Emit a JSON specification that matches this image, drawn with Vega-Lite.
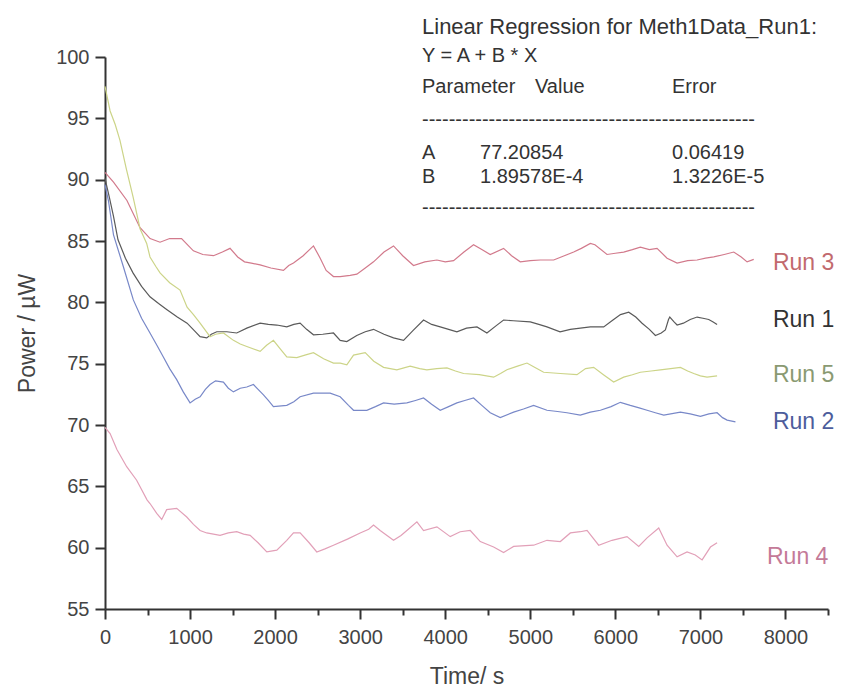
{
  "$schema": "https://vega.github.io/schema/vega-lite/v6.json",
  "autosize": "none",
  "width": 723,
  "height": 552,
  "padding": {"left": 105, "top": 57, "right": 30, "bottom": 81},
  "background": "white",
  "config": {
    "view": {"stroke": null},
    "font": "Liberation Sans",
    "axis": {"grid": false, "domainColor": "#333", "domainWidth": 2, "tickColor": "#333", "tickWidth": 2, "labelColor": "#444", "labelFont": "Liberation Sans", "labelFontSize": 20, "titleFont": "Liberation Sans", "titleFontSize": 23, "titleFontWeight": "normal", "titleColor": "#444"}
  },
  "datasets": {
    "series": [
      {"run":"Run 3","t":0,"p":90.6},{"run":"Run 3","t":100,"p":89.8},{"run":"Run 3","t":258,"p":88.3},{"run":"Run 3","t":410,"p":86.1},{"run":"Run 3","t":530,"p":85.2},{"run":"Run 3","t":647,"p":84.9},{"run":"Run 3","t":760,"p":85.2},{"run":"Run 3","t":900,"p":85.2},{"run":"Run 3","t":1039,"p":84.2},{"run":"Run 3","t":1150,"p":83.9},{"run":"Run 3","t":1275,"p":83.8},{"run":"Run 3","t":1380,"p":84.1},{"run":"Run 3","t":1470,"p":84.4},{"run":"Run 3","t":1560,"p":83.7},{"run":"Run 3","t":1640,"p":83.3},{"run":"Run 3","t":1720,"p":83.2},{"run":"Run 3","t":1824,"p":83.05},{"run":"Run 3","t":1950,"p":82.8},{"run":"Run 3","t":2098,"p":82.6},{"run":"Run 3","t":2160,"p":83.0},{"run":"Run 3","t":2216,"p":83.2},{"run":"Run 3","t":2330,"p":83.8},{"run":"Run 3","t":2451,"p":84.6},{"run":"Run 3","t":2530,"p":83.6},{"run":"Run 3","t":2600,"p":82.6},{"run":"Run 3","t":2686,"p":82.1},{"run":"Run 3","t":2765,"p":82.1},{"run":"Run 3","t":2882,"p":82.2},{"run":"Run 3","t":2961,"p":82.3},{"run":"Run 3","t":3060,"p":82.8},{"run":"Run 3","t":3157,"p":83.3},{"run":"Run 3","t":3280,"p":84.1},{"run":"Run 3","t":3392,"p":84.6},{"run":"Run 3","t":3500,"p":83.8},{"run":"Run 3","t":3627,"p":83.0},{"run":"Run 3","t":3760,"p":83.3},{"run":"Run 3","t":3902,"p":83.45},{"run":"Run 3","t":4000,"p":83.3},{"run":"Run 3","t":4098,"p":83.4},{"run":"Run 3","t":4220,"p":84.1},{"run":"Run 3","t":4333,"p":84.7},{"run":"Run 3","t":4430,"p":84.3},{"run":"Run 3","t":4529,"p":83.9},{"run":"Run 3","t":4686,"p":84.4},{"run":"Run 3","t":4780,"p":83.8},{"run":"Run 3","t":4882,"p":83.3},{"run":"Run 3","t":5000,"p":83.4},{"run":"Run 3","t":5118,"p":83.45},{"run":"Run 3","t":5275,"p":83.45},{"run":"Run 3","t":5400,"p":83.8},{"run":"Run 3","t":5510,"p":84.1},{"run":"Run 3","t":5600,"p":84.4},{"run":"Run 3","t":5706,"p":84.8},{"run":"Run 3","t":5760,"p":84.7},{"run":"Run 3","t":5902,"p":83.9},{"run":"Run 3","t":6000,"p":84.0},{"run":"Run 3","t":6098,"p":84.1},{"run":"Run 3","t":6200,"p":84.3},{"run":"Run 3","t":6294,"p":84.5},{"run":"Run 3","t":6400,"p":84.3},{"run":"Run 3","t":6490,"p":84.4},{"run":"Run 3","t":6608,"p":83.6},{"run":"Run 3","t":6726,"p":83.2},{"run":"Run 3","t":6850,"p":83.4},{"run":"Run 3","t":6961,"p":83.45},{"run":"Run 3","t":7060,"p":83.6},{"run":"Run 3","t":7157,"p":83.7},{"run":"Run 3","t":7280,"p":83.9},{"run":"Run 3","t":7392,"p":84.1},{"run":"Run 3","t":7480,"p":83.7},{"run":"Run 3","t":7549,"p":83.3},{"run":"Run 3","t":7627,"p":83.5},

      {"run":"Run 1","t":0,"p":90.1},{"run":"Run 1","t":50,"p":88.6},{"run":"Run 1","t":100,"p":87.0},{"run":"Run 1","t":153,"p":85.1},{"run":"Run 1","t":240,"p":83.6},{"run":"Run 1","t":329,"p":82.4},{"run":"Run 1","t":430,"p":81.3},{"run":"Run 1","t":529,"p":80.45},{"run":"Run 1","t":630,"p":79.9},{"run":"Run 1","t":729,"p":79.4},{"run":"Run 1","t":850,"p":78.8},{"run":"Run 1","t":965,"p":78.3},{"run":"Run 1","t":1050,"p":77.7},{"run":"Run 1","t":1118,"p":77.2},{"run":"Run 1","t":1196,"p":77.1},{"run":"Run 1","t":1250,"p":77.4},{"run":"Run 1","t":1314,"p":77.6},{"run":"Run 1","t":1431,"p":77.6},{"run":"Run 1","t":1549,"p":77.5},{"run":"Run 1","t":1667,"p":77.9},{"run":"Run 1","t":1824,"p":78.3},{"run":"Run 1","t":1920,"p":78.2},{"run":"Run 1","t":2020,"p":78.15},{"run":"Run 1","t":2137,"p":78.0},{"run":"Run 1","t":2220,"p":78.2},{"run":"Run 1","t":2294,"p":78.3},{"run":"Run 1","t":2370,"p":77.8},{"run":"Run 1","t":2451,"p":77.35},{"run":"Run 1","t":2560,"p":77.4},{"run":"Run 1","t":2686,"p":77.5},{"run":"Run 1","t":2765,"p":76.9},{"run":"Run 1","t":2843,"p":76.8},{"run":"Run 1","t":2960,"p":77.3},{"run":"Run 1","t":3060,"p":77.6},{"run":"Run 1","t":3157,"p":77.8},{"run":"Run 1","t":3280,"p":77.4},{"run":"Run 1","t":3392,"p":77.1},{"run":"Run 1","t":3510,"p":76.9},{"run":"Run 1","t":3620,"p":77.7},{"run":"Run 1","t":3745,"p":78.56},{"run":"Run 1","t":3840,"p":78.2},{"run":"Run 1","t":3941,"p":78.0},{"run":"Run 1","t":4040,"p":77.8},{"run":"Run 1","t":4137,"p":77.6},{"run":"Run 1","t":4250,"p":77.9},{"run":"Run 1","t":4373,"p":78.0},{"run":"Run 1","t":4490,"p":77.5},{"run":"Run 1","t":4600,"p":78.1},{"run":"Run 1","t":4686,"p":78.56},{"run":"Run 1","t":4800,"p":78.5},{"run":"Run 1","t":5000,"p":78.4},{"run":"Run 1","t":5100,"p":78.2},{"run":"Run 1","t":5196,"p":78.0},{"run":"Run 1","t":5350,"p":77.6},{"run":"Run 1","t":5470,"p":77.8},{"run":"Run 1","t":5588,"p":77.9},{"run":"Run 1","t":5706,"p":78.0},{"run":"Run 1","t":5863,"p":78.0},{"run":"Run 1","t":5960,"p":78.5},{"run":"Run 1","t":6060,"p":79.0},{"run":"Run 1","t":6157,"p":79.2},{"run":"Run 1","t":6240,"p":78.8},{"run":"Run 1","t":6314,"p":78.3},{"run":"Run 1","t":6400,"p":77.8},{"run":"Run 1","t":6471,"p":77.3},{"run":"Run 1","t":6540,"p":77.5},{"run":"Run 1","t":6588,"p":77.75},{"run":"Run 1","t":6625,"p":78.6},{"run":"Run 1","t":6640,"p":78.8},{"run":"Run 1","t":6690,"p":78.4},{"run":"Run 1","t":6726,"p":78.15},{"run":"Run 1","t":6800,"p":78.3},{"run":"Run 1","t":6880,"p":78.6},{"run":"Run 1","t":6961,"p":78.8},{"run":"Run 1","t":7030,"p":78.7},{"run":"Run 1","t":7098,"p":78.6},{"run":"Run 1","t":7150,"p":78.4},{"run":"Run 1","t":7196,"p":78.2},

      {"run":"Run 5","t":0,"p":97.6},{"run":"Run 5","t":60,"p":95.6},{"run":"Run 5","t":120,"p":94.5},{"run":"Run 5","t":176,"p":93.2},{"run":"Run 5","t":250,"p":90.9},{"run":"Run 5","t":330,"p":88.6},{"run":"Run 5","t":412,"p":86.0},{"run":"Run 5","t":490,"p":84.8},{"run":"Run 5","t":529,"p":83.7},{"run":"Run 5","t":600,"p":82.9},{"run":"Run 5","t":647,"p":82.4},{"run":"Run 5","t":760,"p":81.6},{"run":"Run 5","t":882,"p":81.0},{"run":"Run 5","t":965,"p":79.6},{"run":"Run 5","t":1040,"p":79.0},{"run":"Run 5","t":1118,"p":78.3},{"run":"Run 5","t":1235,"p":77.2},{"run":"Run 5","t":1300,"p":77.4},{"run":"Run 5","t":1392,"p":77.5},{"run":"Run 5","t":1510,"p":76.9},{"run":"Run 5","t":1590,"p":76.6},{"run":"Run 5","t":1667,"p":76.4},{"run":"Run 5","t":1824,"p":76.0},{"run":"Run 5","t":1900,"p":76.5},{"run":"Run 5","t":1980,"p":76.9},{"run":"Run 5","t":2060,"p":76.2},{"run":"Run 5","t":2137,"p":75.55},{"run":"Run 5","t":2255,"p":75.5},{"run":"Run 5","t":2350,"p":75.7},{"run":"Run 5","t":2451,"p":75.9},{"run":"Run 5","t":2570,"p":75.4},{"run":"Run 5","t":2686,"p":75.05},{"run":"Run 5","t":2765,"p":75.05},{"run":"Run 5","t":2843,"p":74.9},{"run":"Run 5","t":2922,"p":75.7},{"run":"Run 5","t":3059,"p":75.9},{"run":"Run 5","t":3160,"p":75.2},{"run":"Run 5","t":3275,"p":74.7},{"run":"Run 5","t":3431,"p":74.5},{"run":"Run 5","t":3588,"p":74.8},{"run":"Run 5","t":3700,"p":74.6},{"run":"Run 5","t":3784,"p":74.5},{"run":"Run 5","t":3900,"p":74.6},{"run":"Run 5","t":4020,"p":74.65},{"run":"Run 5","t":4120,"p":74.4},{"run":"Run 5","t":4216,"p":74.2},{"run":"Run 5","t":4400,"p":74.1},{"run":"Run 5","t":4569,"p":73.9},{"run":"Run 5","t":4650,"p":74.2},{"run":"Run 5","t":4725,"p":74.5},{"run":"Run 5","t":4850,"p":74.8},{"run":"Run 5","t":4961,"p":75.05},{"run":"Run 5","t":5050,"p":74.7},{"run":"Run 5","t":5157,"p":74.3},{"run":"Run 5","t":5353,"p":74.2},{"run":"Run 5","t":5549,"p":74.1},{"run":"Run 5","t":5650,"p":74.6},{"run":"Run 5","t":5745,"p":74.7},{"run":"Run 5","t":5860,"p":74.1},{"run":"Run 5","t":5980,"p":73.5},{"run":"Run 5","t":6098,"p":73.9},{"run":"Run 5","t":6200,"p":74.1},{"run":"Run 5","t":6294,"p":74.3},{"run":"Run 5","t":6420,"p":74.4},{"run":"Run 5","t":6529,"p":74.5},{"run":"Run 5","t":6650,"p":74.6},{"run":"Run 5","t":6765,"p":74.7},{"run":"Run 5","t":6850,"p":74.4},{"run":"Run 5","t":6922,"p":74.2},{"run":"Run 5","t":7000,"p":74.0},{"run":"Run 5","t":7078,"p":73.9},{"run":"Run 5","t":7196,"p":74.0},

      {"run":"Run 2","t":0,"p":89.6},{"run":"Run 2","t":40,"p":88.3},{"run":"Run 2","t":100,"p":85.5},{"run":"Run 2","t":216,"p":82.9},{"run":"Run 2","t":333,"p":80.2},{"run":"Run 2","t":430,"p":78.7},{"run":"Run 2","t":529,"p":77.5},{"run":"Run 2","t":610,"p":76.5},{"run":"Run 2","t":686,"p":75.55},{"run":"Run 2","t":760,"p":74.6},{"run":"Run 2","t":843,"p":73.7},{"run":"Run 2","t":920,"p":72.7},{"run":"Run 2","t":1000,"p":71.8},{"run":"Run 2","t":1060,"p":72.1},{"run":"Run 2","t":1118,"p":72.3},{"run":"Run 2","t":1180,"p":72.9},{"run":"Run 2","t":1235,"p":73.3},{"run":"Run 2","t":1300,"p":73.6},{"run":"Run 2","t":1392,"p":73.5},{"run":"Run 2","t":1450,"p":73.0},{"run":"Run 2","t":1510,"p":72.7},{"run":"Run 2","t":1590,"p":73.0},{"run":"Run 2","t":1667,"p":73.1},{"run":"Run 2","t":1745,"p":73.3},{"run":"Run 2","t":1800,"p":72.9},{"run":"Run 2","t":1863,"p":72.45},{"run":"Run 2","t":1920,"p":72.0},{"run":"Run 2","t":1980,"p":71.5},{"run":"Run 2","t":2137,"p":71.6},{"run":"Run 2","t":2220,"p":71.9},{"run":"Run 2","t":2294,"p":72.3},{"run":"Run 2","t":2451,"p":72.6},{"run":"Run 2","t":2647,"p":72.6},{"run":"Run 2","t":2765,"p":72.3},{"run":"Run 2","t":2863,"p":71.6},{"run":"Run 2","t":2922,"p":71.2},{"run":"Run 2","t":3078,"p":71.2},{"run":"Run 2","t":3180,"p":71.5},{"run":"Run 2","t":3275,"p":71.8},{"run":"Run 2","t":3400,"p":71.7},{"run":"Run 2","t":3549,"p":71.8},{"run":"Run 2","t":3650,"p":72.0},{"run":"Run 2","t":3745,"p":72.2},{"run":"Run 2","t":3840,"p":71.7},{"run":"Run 2","t":3941,"p":71.2},{"run":"Run 2","t":4040,"p":71.5},{"run":"Run 2","t":4137,"p":71.8},{"run":"Run 2","t":4230,"p":72.0},{"run":"Run 2","t":4333,"p":72.2},{"run":"Run 2","t":4430,"p":71.6},{"run":"Run 2","t":4529,"p":71.0},{"run":"Run 2","t":4647,"p":70.6},{"run":"Run 2","t":4804,"p":71.05},{"run":"Run 2","t":4920,"p":71.3},{"run":"Run 2","t":5039,"p":71.6},{"run":"Run 2","t":5196,"p":71.2},{"run":"Run 2","t":5320,"p":71.1},{"run":"Run 2","t":5431,"p":71.0},{"run":"Run 2","t":5588,"p":70.8},{"run":"Run 2","t":5706,"p":71.05},{"run":"Run 2","t":5824,"p":71.2},{"run":"Run 2","t":5950,"p":71.5},{"run":"Run 2","t":6059,"p":71.85},{"run":"Run 2","t":6176,"p":71.6},{"run":"Run 2","t":6280,"p":71.4},{"run":"Run 2","t":6373,"p":71.2},{"run":"Run 2","t":6470,"p":71.0},{"run":"Run 2","t":6569,"p":70.8},{"run":"Run 2","t":6765,"p":71.05},{"run":"Run 2","t":6880,"p":70.9},{"run":"Run 2","t":7000,"p":70.7},{"run":"Run 2","t":7100,"p":70.9},{"run":"Run 2","t":7196,"p":71.0},{"run":"Run 2","t":7260,"p":70.6},{"run":"Run 2","t":7314,"p":70.4},{"run":"Run 2","t":7412,"p":70.25},

      {"run":"Run 4","t":0,"p":69.8},{"run":"Run 4","t":60,"p":69.3},{"run":"Run 4","t":140,"p":68.0},{"run":"Run 4","t":255,"p":66.6},{"run":"Run 4","t":372,"p":65.5},{"run":"Run 4","t":494,"p":63.9},{"run":"Run 4","t":529,"p":63.6},{"run":"Run 4","t":608,"p":62.8},{"run":"Run 4","t":667,"p":62.3},{"run":"Run 4","t":725,"p":63.1},{"run":"Run 4","t":843,"p":63.2},{"run":"Run 4","t":961,"p":62.5},{"run":"Run 4","t":1040,"p":61.9},{"run":"Run 4","t":1118,"p":61.4},{"run":"Run 4","t":1196,"p":61.2},{"run":"Run 4","t":1353,"p":61.0},{"run":"Run 4","t":1450,"p":61.2},{"run":"Run 4","t":1549,"p":61.3},{"run":"Run 4","t":1630,"p":61.1},{"run":"Run 4","t":1706,"p":61.0},{"run":"Run 4","t":1800,"p":60.4},{"run":"Run 4","t":1902,"p":59.65},{"run":"Run 4","t":2020,"p":59.8},{"run":"Run 4","t":2137,"p":60.6},{"run":"Run 4","t":2216,"p":61.2},{"run":"Run 4","t":2294,"p":61.2},{"run":"Run 4","t":2400,"p":60.4},{"run":"Run 4","t":2490,"p":59.65},{"run":"Run 4","t":2586,"p":59.9},{"run":"Run 4","t":2686,"p":60.2},{"run":"Run 4","t":2850,"p":60.7},{"run":"Run 4","t":3000,"p":61.2},{"run":"Run 4","t":3100,"p":61.5},{"run":"Run 4","t":3157,"p":61.85},{"run":"Run 4","t":3235,"p":61.4},{"run":"Run 4","t":3392,"p":60.6},{"run":"Run 4","t":3480,"p":61.0},{"run":"Run 4","t":3549,"p":61.4},{"run":"Run 4","t":3667,"p":62.1},{"run":"Run 4","t":3745,"p":61.4},{"run":"Run 4","t":3902,"p":61.7},{"run":"Run 4","t":4059,"p":60.9},{"run":"Run 4","t":4176,"p":61.3},{"run":"Run 4","t":4294,"p":61.4},{"run":"Run 4","t":4412,"p":60.5},{"run":"Run 4","t":4569,"p":60.05},{"run":"Run 4","t":4686,"p":59.6},{"run":"Run 4","t":4804,"p":60.1},{"run":"Run 4","t":5039,"p":60.2},{"run":"Run 4","t":5196,"p":60.6},{"run":"Run 4","t":5353,"p":60.5},{"run":"Run 4","t":5471,"p":61.2},{"run":"Run 4","t":5588,"p":61.3},{"run":"Run 4","t":5667,"p":61.4},{"run":"Run 4","t":5804,"p":60.2},{"run":"Run 4","t":5961,"p":60.6},{"run":"Run 4","t":6137,"p":60.9},{"run":"Run 4","t":6275,"p":60.1},{"run":"Run 4","t":6373,"p":60.8},{"run":"Run 4","t":6510,"p":61.6},{"run":"Run 4","t":6608,"p":60.2},{"run":"Run 4","t":6726,"p":59.25},{"run":"Run 4","t":6843,"p":59.65},{"run":"Run 4","t":6940,"p":59.4},{"run":"Run 4","t":7020,"p":59.0},{"run":"Run 4","t":7118,"p":60.05},{"run":"Run 4","t":7196,"p":60.4}
    ],
    "labels": [
      {"run":"Run 3","t":7853,"p":83.21},
      {"run":"Run 1","t":7853,"p":78.56},
      {"run":"Run 5","t":7853,"p":74.08},
      {"run":"Run 2","t":7853,"p":70.25},
      {"run":"Run 4","t":7783,"p":59.24}
    ],
    "note": [
      {"t":3727,"p":100.12,"text":"Y = A + B * X"},
      {"t":3727,"p":97.55,"text":"Parameter"},
      {"t":5055,"p":97.55,"text":"Value"},
      {"t":6666,"p":97.55,"text":"Error"},
      {"t":3727,"p":94.86,"text":"--------------------------------------------------"},
      {"t":3727,"p":92.17,"text":"A"},
      {"t":4409,"p":92.17,"text":"77.20854"},
      {"t":6666,"p":92.17,"text":"0.06419"},
      {"t":3727,"p":90.22,"text":"B"},
      {"t":4409,"p":90.22,"text":"1.89578E-4"},
      {"t":6666,"p":90.22,"text":"1.3226E-5"},
      {"t":3727,"p":87.69,"text":"--------------------------------------------------"}
    ],
    "head": [
      {"t":3727,"p":102.45,"text":"Linear Regression for Meth1Data_Run1:"}
    ]
  },
  "layer": [
    {
      "data": {"name": "series"},
      "mark": {"type": "line", "strokeWidth": 1.2, "interpolate": "linear"},
      "encoding": {
        "x": {"field": "t", "type": "quantitative", "scale": {"domain": [0, 8500], "nice": false, "zero": false},
          "axis": {"title": "Time/ s", "values": [0,500,1000,1500,2000,2500,3000,3500,4000,4500,5000,5500,6000,6500,7000,7500,8000,8500], "format": "d",
            "labelExpr": "datum.value % 1000 === 0 && datum.value < 8500 ? datum.label : ''",
            "tickSize": {"condition": {"test": "datum.value % 1000 === 0", "value": 10}, "value": 6},
            "labelPadding": 8, "titlePadding": 18, "labelFlush": false, "labelOverlap": false}},
        "y": {"field": "p", "type": "quantitative", "scale": {"domain": [55, 100], "nice": false, "zero": false},
          "axis": {"title": "Power / µW", "values": [55,57.5,60,62.5,65,67.5,70,72.5,75,77.5,80,82.5,85,87.5,90,92.5,95,97.5,100],
            "labelExpr": "datum.value % 5 === 0 ? datum.label : ''",
            "tickSize": {"condition": {"test": "datum.value % 5 === 0", "value": 10}, "value": 6},
            "labelPadding": 6, "titlePadding": 16, "labelFlush": false, "labelOverlap": false}},
        "color": {"field": "run", "type": "nominal", "legend": null,
          "scale": {"domain": ["Run 1","Run 2","Run 3","Run 4","Run 5"], "range": ["#5a5a5a","#7888c8","#d27a8c","#e2a0b8","#ccd488"]}},
        "detail": {"field": "run"}
      }
    },
    {
      "data": {"name": "labels"},
      "mark": {"type": "text", "align": "left", "baseline": "middle", "fontSize": 23, "font": "Liberation Sans"},
      "encoding": {
        "x": {"field": "t", "type": "quantitative"},
        "y": {"field": "p", "type": "quantitative"},
        "text": {"field": "run"},
        "color": {"field": "run", "type": "nominal", "legend": null,
          "scale": {"domain": ["Run 1","Run 2","Run 3","Run 4","Run 5"], "range": ["#333333","#4d5d9c","#c26a6e","#c47a98","#8a9a72"]}}
      }
    },
    {
      "data": {"name": "note"},
      "mark": {"type": "text", "align": "left", "baseline": "middle", "fontSize": 20, "font": "Liberation Sans", "color": "#333"},
      "encoding": {
        "x": {"field": "t", "type": "quantitative"},
        "y": {"field": "p", "type": "quantitative"},
        "text": {"field": "text"}
      }
    },
    {
      "data": {"name": "head"},
      "mark": {"type": "text", "align": "left", "baseline": "middle", "fontSize": 22, "font": "Liberation Sans", "color": "#333"},
      "encoding": {
        "x": {"field": "t", "type": "quantitative"},
        "y": {"field": "p", "type": "quantitative"},
        "text": {"field": "text"}
      }
    }
  ],
  "resolve": {"scale": {"color": "independent"}}
}
